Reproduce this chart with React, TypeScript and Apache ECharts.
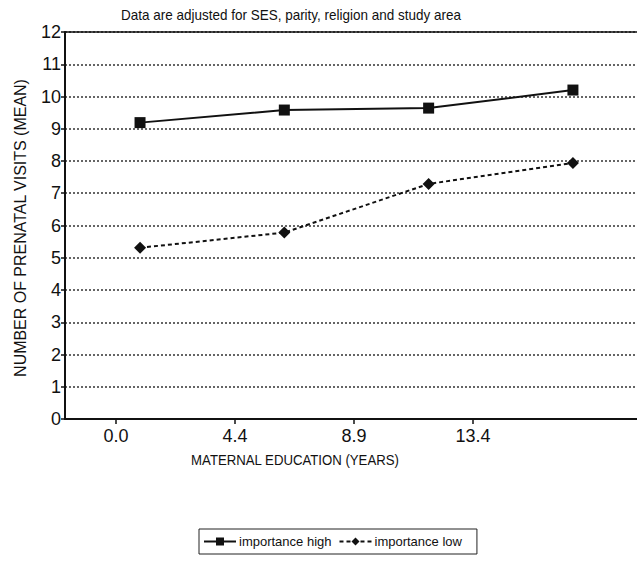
import React, { useEffect, useRef } from "react";
import * as echarts from "echarts";

const titleText = "Data are adjusted for SES, parity, religion and study area";
const xLabels = ["0.0", "4.4", "8.9", "13.4"];
const highValues = [9.19, 9.58, 9.64, 10.2];
const lowValues = [5.31, 5.78, 7.29, 7.94];
const seriesNames = ["importance high", "importance low"];
const yName = "NUMBER OF PRENATAL VISITS (MEAN)";
const xName = "MATERNAL EDUCATION (YEARS)";

const SANS = "'Liberation Sans', Arial, Helvetica, sans-serif";

export default function App() {
  const ref = useRef<HTMLDivElement>(null);
  useEffect(() => {
    if (!ref.current) return;
    const chart = echarts.init(ref.current, null, { renderer: "svg" });
    const idx = xLabels.map((_, i) => i);
    chart.setOption({
      animation: false,
      backgroundColor: "#fff",
      graphic: [
        {
          type: "text",
          x: 291,
          y: 15,
          scaleX: 0.9,
          style: {
            text: titleText,
            fontFamily: SANS,
            fontSize: 15,
            fill: "#111",
            textAlign: "center",
            textVerticalAlign: "middle",
          },
        },
        {
          type: "text",
          x: 20,
          y: 228,
          rotation: Math.PI / 2,
          scaleX: 0.94,
          style: {
            text: yName,
            fontFamily: SANS,
            fontSize: 17,
            fill: "#111",
            textAlign: "center",
            textVerticalAlign: "middle",
          },
        },
        {
          type: "text",
          x: 295,
          y: 460,
          scaleX: 0.88,
          style: {
            text: xName,
            fontFamily: SANS,
            fontSize: 15,
            fill: "#111",
            textAlign: "center",
            textVerticalAlign: "middle",
          },
        },
      ],
      legend: {
        left: 199,
        top: 529,
        orient: "horizontal",
        borderColor: "#222",
        borderWidth: 1,
        padding: [6, 15, 6, 4],
        itemGap: 7,
        itemWidth: 32,
        itemHeight: 10,
        textStyle: { fontFamily: SANS, fontSize: 13, color: "#111", padding: [0, 0, 0, -2] },
        data: seriesNames,
      },
      grid: { left: 65, right: 0, top: 32, bottom: 142, containLabel: false },
      xAxis: [
        {
          type: "value",
          min: -0.429,
          max: 4.378,
          position: "bottom",
          axisLine: { show: true, onZero: false, lineStyle: { color: "#111", width: 2 } },
          axisTick: { show: true, length: 5, customValues: idx, lineStyle: { color: "#111", width: 1.5 } },
          axisLabel: {
            show: true,
            customValues: idx,
            margin: 8,
            fontFamily: SANS,
            fontSize: 18,
            color: "#111",
            formatter: (v: number) => xLabels[Math.round(v)] ?? "",
          },
          splitLine: { show: false },
        },
        {
          type: "value",
          min: -0.52,
          max: 3.444,
          position: "top",
          axisLine: { show: true, onZero: false, lineStyle: { color: "#111", width: 1.5 } },
          axisTick: { show: false },
          axisLabel: { show: false },
          splitLine: { show: false },
        },
      ],
      yAxis: {
        type: "value",
        min: 0,
        max: 12,
        interval: 1,
        axisLine: { show: true, onZero: false, lineStyle: { color: "#111", width: 2 } },
        axisTick: { show: true, length: 4, lineStyle: { color: "#111", width: 1.5 } },
        axisLabel: { margin: 4, fontFamily: SANS, fontSize: 18, color: "#111" },
        splitLine: { show: true, lineStyle: { color: "#333", width: 1.5, type: [2, 2] } },
      },
      series: [
        {
          name: seriesNames[0],
          type: "line",
          xAxisIndex: 1,
          data: highValues.map((v, i) => [i, v]),
          symbol: "rect",
          symbolSize: 11,
          itemStyle: { color: "#111" },
          lineStyle: { color: "#111", width: 2, type: "solid" },
        },
        {
          name: seriesNames[1],
          type: "line",
          xAxisIndex: 1,
          data: lowValues.map((v, i) => [i, v]),
          symbol: "diamond",
          symbolSize: 12,
          itemStyle: { color: "#111" },
          lineStyle: { color: "#111", width: 2, type: [4, 3] },
        },
      ],
    });
    return () => chart.dispose();
  }, []);
  return (
    <div
      ref={ref}
      style={{ position: "fixed", left: 0, top: 0, width: 637, height: 561 }}
    />
  );
}
